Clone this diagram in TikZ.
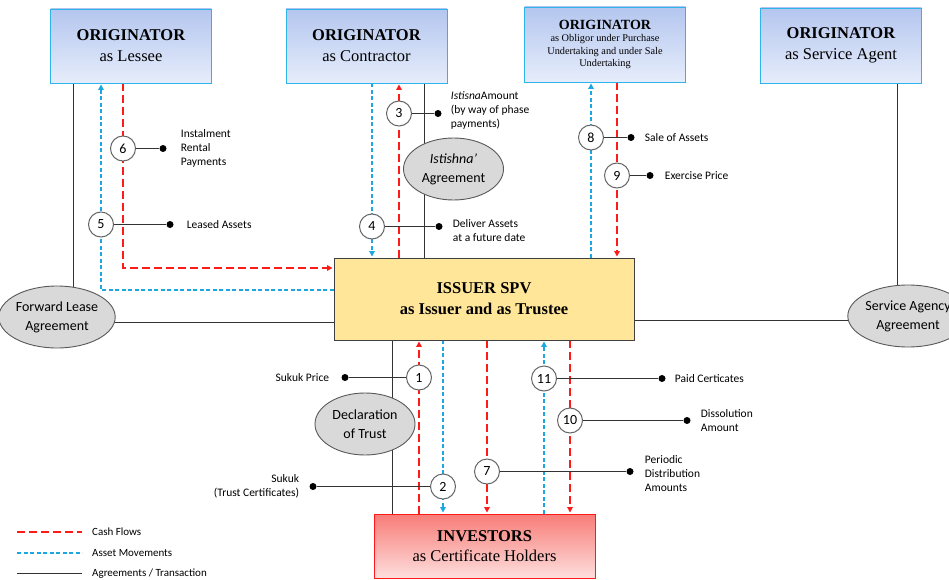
\documentclass[tikz,border=0pt]{standalone}
\usepackage{fontspec}
\setmainfont{Carlito}
\newfontfamily\serifbox{Liberation Serif}
\usetikzlibrary{arrows.meta,positioning,shapes.geometric,backgrounds}
\definecolor{boxtop}{HTML}{B4C6EF}
\definecolor{boxbot}{HTML}{E6EDFB}
\definecolor{boxline}{HTML}{2FB4E9}
\definecolor{spvfill}{HTML}{FFE699}
\definecolor{invtop}{HTML}{F87C77}
\definecolor{invbot}{HTML}{FDDEDD}
\definecolor{cashred}{HTML}{FF1A1A}
\definecolor{assetblue}{HTML}{1CA6E2}
\definecolor{agreegray}{HTML}{D9D9D9}

\begin{document}
\begin{tikzpicture}[x=1pt,y=-1pt,
  >={Triangle[length=5.5pt,width=5.5pt]},
  every node/.style={align=center},
  orig/.style={draw=boxline,line width=0.9pt,top color=boxtop,bottom color=boxbot,minimum width=161pt,minimum height=74pt,inner sep=0pt,font=\serifbox\fontsize{16.5}{21}\selectfont},
  agree/.style={ellipse,draw=black!65,line width=0.9pt,fill=agreegray,minimum width=100pt,minimum height=62pt,inner sep=0pt,font=\fontsize{14}{19}\selectfont},
  num/.style={circle,draw=black!60,line width=1pt,fill=white,minimum size=25pt,inner sep=0pt,font=\fontsize{14}{14}\selectfont},
  endpt/.style={circle,fill=black,minimum size=7pt,inner sep=0pt},
  lbl/.style={align=left,inner sep=0pt,font=\fontsize{11.5}{14}\selectfont},
  cash/.style={draw=cashred,line width=1.6pt,dash pattern=on 8pt off 4pt,shorten >=1pt},
  asset/.style={draw=assetblue,line width=1.6pt,dash pattern=on 4pt off 2.5pt,shorten >=1pt},
  deal/.style={black!80,line width=1pt}]
\useasboundingbox (0,0) rectangle (949,580);

% parties
\node[orig] (lessee) at (131,46) {\textbf{ORIGINATOR}\\as Lessee};
\node[orig] (contractor) at (366.5,46) {\textbf{ORIGINATOR}\\as Contractor};
\node[orig,minimum height=75pt,font=\serifbox\fontsize{10.3}{12.5}\selectfont] (obligor) at (605,44.5) {{\fontsize{14}{12.5}\selectfont\bfseries ORIGINATOR}\\as Obligor under Purchase\\Undertaking and under Sale\\Undertaking};
\node[orig,minimum height=75pt] (agent) at (841,45.5) {\textbf{ORIGINATOR}\\as Service Agent};
\node[draw=black!75,line width=0.9pt,fill=spvfill,minimum width=300pt,minimum height=82pt,inner sep=0pt,font=\serifbox\bfseries\fontsize{16.5}{21}\selectfont] (spv) at (484,299) {ISSUER SPV\\as Issuer and as Trustee};
\node[draw=cashred,line width=0.9pt,top color=invtop,bottom color=invbot,minimum width=221pt,minimum height=64pt,inner sep=0pt,font=\serifbox\fontsize{16.5}{20}\selectfont] (investors) at (484.5,546) {\textbf{INVESTORS}\\as Certificate Holders};

% agreements
\node[agree] (fwdlease) at (57,317) {Forward Lease\\Agreement};
\node[agree] (istishna) at (453.5,169) {\textit{Istishna’}\\Agreement};
\node[agree] (trust) at (365,424) {Declaration\\of Trust};
\node[agree] (svcagency) at (908,316) {Service Agency\\Agreement};

% numbered steps
\foreach \n/\cx/\dx/\y in {1/419/345/377.5, 2/443/313/486.5, 3/399/438/113.5, 4/372/439/226.5,
    5/101/170/224.5, 6/123/163/148.5, 7/487/630/471.5, 8/591/631/137.5, 9/617/650/175.5,
    10/570/687/420.5, 11/544/662/378.5}{
  \node[num] (c\n) at (\cx,\y) {\n};
  \node[endpt] (d\n) at (\dx,\y) {};
  \draw[deal] (c\n) -- (d\n);
}

\node[lbl,left=12pt of d1,align=right] (l1) {Sukuk Price};
\node[lbl,left=10pt of d2,align=right] (l2) {Sukuk\\(Trust Certificates)};
\node[lbl,right=9pt of d3,yshift=3pt] (l3) {\textit{Istisna}Amount\\(by way of phase\\payments)};
\node[lbl,right=10pt of d4,yshift=-4pt] (l4) {Deliver Assets\\at a future date};
\node[lbl,right=13pt of d5] (l5) {Leased Assets};
\node[lbl,right=14pt of d6] (l6) {Instalment\\Rental\\Payments};
\node[lbl,right=11pt of d7,yshift=-2pt] (l7) {Periodic\\Distribution\\Amounts};
\node[lbl,right=10pt of d8] (l8) {Sale of Assets};
\node[lbl,right=11pt of d9] (l9) {Exercise Price};
\node[lbl,right=10pt of d10] (l10) {Dissolution\\Amount};
\node[lbl,right=9pt of d11] (l11) {Paid Certicates};

% flows
\begin{pgfonlayer}{background}
\draw[deal] ([xshift=-57.5pt]lessee.south) -- ([xshift=-57.5pt]lessee.south |- fwdlease.center);
\draw[cash,->] (lessee.south -| c6) |- ([yshift=31pt]spv.west);
\draw[asset,->] ([yshift=9pt]spv.west) -| (lessee.south -| c5);
\draw[deal] ([yshift=-23.5pt]spv.west) -- ([yshift=-23.5pt]spv.west -| fwdlease.center);
\draw[asset,->] (contractor.south -| c4) -- (spv.north -| c4);
\draw[cash,->] (spv.north -| c3) -- (contractor.south -| c3);
\draw[deal] ([xshift=58pt]contractor.south) -- ([xshift=58pt]contractor.south |- spv.north);
\draw[asset,->] (spv.north -| c8) -- (obligor.south -| c8);
\draw[cash,->] (obligor.south -| c9) -- (spv.north -| c9);
\draw[deal] ([xshift=56.5pt]agent.south) -- ([xshift=56.5pt]agent.south |- svcagency.center);
\draw[deal] ([yshift=-21.5pt]spv.east) -- ([yshift=-21.5pt]spv.east -| svcagency.center);
\draw[deal] ([xshift=-91.5pt]spv.south) -- ([xshift=-91.5pt]spv.south |- investors.north);
\draw[cash,->] (investors.north -| c1) -- (spv.south -| c1);
\draw[asset,->] (investors.north -| c11) -- (spv.south -| c11);
\foreach \c in {c7,c10}{\draw[cash,->] (spv.south -| \c) -- (investors.north -| \c);}
\draw[asset,->] (spv.south -| c2) -- (investors.north -| c2);
\end{pgfonlayer}

% legend
\coordinate (k1) at (17,532); \coordinate (k2) at (82,532);
\coordinate (k3) at (17,553); \coordinate (k4) at (82,553);
\coordinate (k5) at (17,573.5); \coordinate (k6) at (82,573.5);
\draw[cash,shorten >=0pt] (k1) -- (k2);
\draw[asset,shorten >=0pt] (k3) -- (k4);
\draw[deal] (k5) -- (k6);
\node[lbl,font=\fontsize{11}{13}\selectfont,right=10pt of k2] (kcash) {Cash Flows};
\node[lbl,font=\fontsize{11}{13}\selectfont,right=10pt of k4] (kasset) {Asset Movements};
\node[lbl,font=\fontsize{11}{13}\selectfont,right=10pt of k6] (kdeal) {Agreements / Transaction};
\end{tikzpicture}
\end{document}
